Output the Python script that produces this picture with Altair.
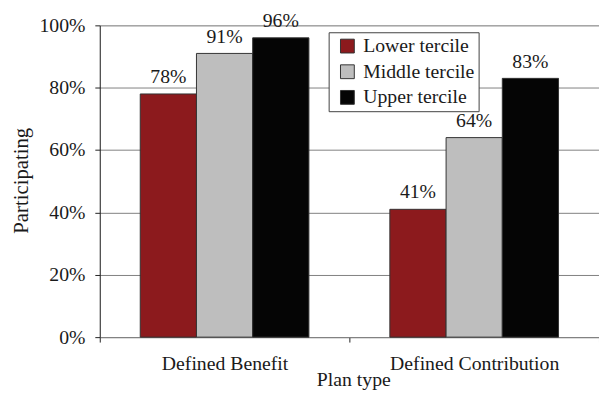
import altair as alt
import pandas as pd

plans = ["Defined Benefit", "Defined Contribution"]
terciles = ["Lower tercile", "Middle tercile", "Upper tercile"]
db_values = [0.78, 0.91, 0.96]
dc_values = [0.41, 0.64, 0.83]
y_ticks = [0, 0.2, 0.4, 0.6, 0.8, 1.0]
colors = ["#8C1A1D", "#BEBEBE", "#050505"]

rows = []
for p, vals in zip(plans, [db_values, dc_values]):
    for t, v in zip(terciles, vals):
        rows.append({"plan": p, "tercile": t, "value": v})
df = pd.DataFrame(rows)

FONT = "Liberation Serif"
TXT = "#1a1a1a"

x_enc = alt.X(
    "plan:N",
    sort=plans,
    scale=alt.Scale(paddingInner=0, paddingOuter=0),
    axis=alt.Axis(
        title="Plan type",
        labelAngle=0,
        tickBand="extent",
        tickSize=5,
        tickColor="#222",
        domainColor="#808080",
        labelFont=FONT,
        labelFontSize=20,
        labelColor=TXT,
        labelBaseline="alphabetic",
        labelPadding=28,
        titleFont=FONT,
        titleFontSize=20,
        titleFontWeight="normal",
        titleColor=TXT,
        titleBaseline="alphabetic",
        titleAnchor="middle",
        titleX=257,
        titleY=49,
        grid=False,
    ),
)
xo_enc = alt.XOffset(
    "tercile:N", sort=terciles, scale=alt.Scale(paddingInner=0, paddingOuter=0.72)
)
y_enc = alt.Y(
    "value:Q",
    scale=alt.Scale(domain=[0, 1], nice=False),
    axis=alt.Axis(
        title="Participating",
        values=y_ticks,
        format=".0%",
        tickSize=5,
        tickColor="#222",
        domainColor="#222",
        gridColor="#808080",
        gridOpacity=1,
        labelFont=FONT,
        labelFontSize=20,
        labelColor=TXT,
        labelPadding=10,
        titleFont=FONT,
        titleFontSize=21,
        titleFontWeight="normal",
        titleColor=TXT,
        titleAngle=270,
        titleBaseline="alphabetic",
        titleAlign="center",
        titleX=-73,
        titleY=157,
    ),
)

bars = alt.Chart(df).mark_bar(stroke="#333333", strokeWidth=1).encode(
    x=x_enc,
    xOffset=xo_enc,
    y=y_enc,
    color=alt.Color(
        "tercile:N",
        sort=terciles,
        scale=alt.Scale(domain=terciles, range=colors),
        legend=alt.Legend(
            title=None,
            orient="none",
            legendX=232,
            legendY=7,
            fillColor="white",
            strokeColor="#404040",
            padding=4,
            symbolType="square",
            symbolSize=196,
            symbolStrokeColor="#333333",
            symbolStrokeWidth=1,
            symbolOffset=5,
            labelFont=FONT,
            labelFontSize=20,
            labelColor=TXT,
            labelOffset=6,
            rowPadding=6,
        ),
    ),
)

labels = alt.Chart(df).mark_text(
    baseline="alphabetic", dy=-11, font=FONT, fontSize=20, color=TXT
).encode(
    x=alt.X("plan:N", sort=plans),
    xOffset=alt.XOffset("tercile:N", sort=terciles),
    y="value:Q",
    text=alt.Text("value:Q", format=".0%"),
)

chart = (
    alt.layer(bars, labels)
    .properties(
        width=506,
        height=316,
        autosize=alt.AutoSizeParams(type="none"),
        padding={"left": 93, "top": 15, "right": 0, "bottom": 53},
    )
    .configure_view(stroke=None)
    .configure(background="white")
)

chart.save("out.html", embed_options={"renderer": "svg", "actions": False})
